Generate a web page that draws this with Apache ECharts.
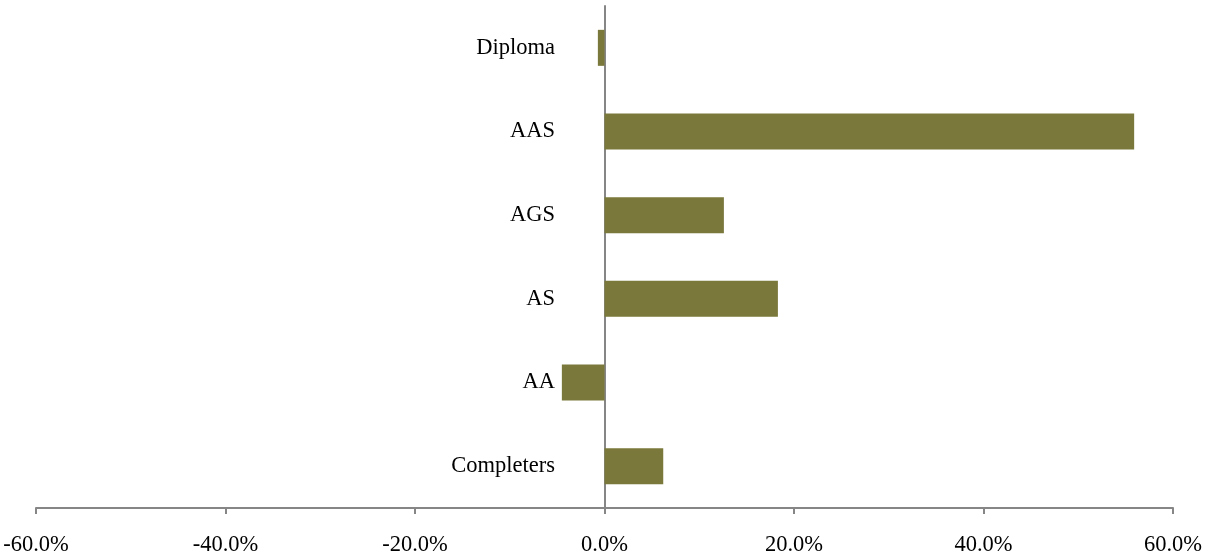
<!DOCTYPE html>
<html><head><meta charset="utf-8">
<script src="https://cdn.jsdelivr.net/npm/echarts@6/dist/echarts.min.js"></script>
<style>html,body{margin:0;padding:0;background:#fff}#c{width:1219px;height:554px}</style>
</head><body><div id="c"></div>
<script>
const categories = ["Completers", "AA", "AS", "AGS", "AAS", "Diploma"];
const values = [6.2, -4.5, 18.3, 12.6, 55.9, -0.7];
const xTicks = [-60, -40, -20, 0, 20, 40, 60];

const chart = echarts.init(document.getElementById('c'));
chart.setOption({
  animation: false,
  grid: { left: 36, right: 46, top: 6, bottom: 46, containLabel: false, outerBoundsMode: 'none' },
  xAxis: {
    type: 'value', min: xTicks[0], max: xTicks[xTicks.length - 1], interval: 20,
    axisLine: { show: true, onZero: false, lineStyle: { color: '#868686', width: 2 } },
    axisTick: { show: true, length: 6, lineStyle: { color: '#868686', width: 2 } },
    splitLine: { show: false },
    axisLabel: { margin: 26, color: '#000', fontFamily: 'Liberation Serif', fontSize: 22.5,
      formatter: v => v.toFixed(1) + '%' }
  },
  yAxis: {
    type: 'category', data: categories,
    axisLine: { show: true, onZero: true, lineStyle: { color: '#868686', width: 2 } },
    axisTick: { show: false },
    axisLabel: { margin: -519, color: '#000', fontFamily: 'Liberation Serif', fontSize: 22.5 }
  },
  series: [{
    type: 'bar', data: values, barWidth: 36,
    itemStyle: { color: '#7a783a' }
  }]
});
</script></body></html>
